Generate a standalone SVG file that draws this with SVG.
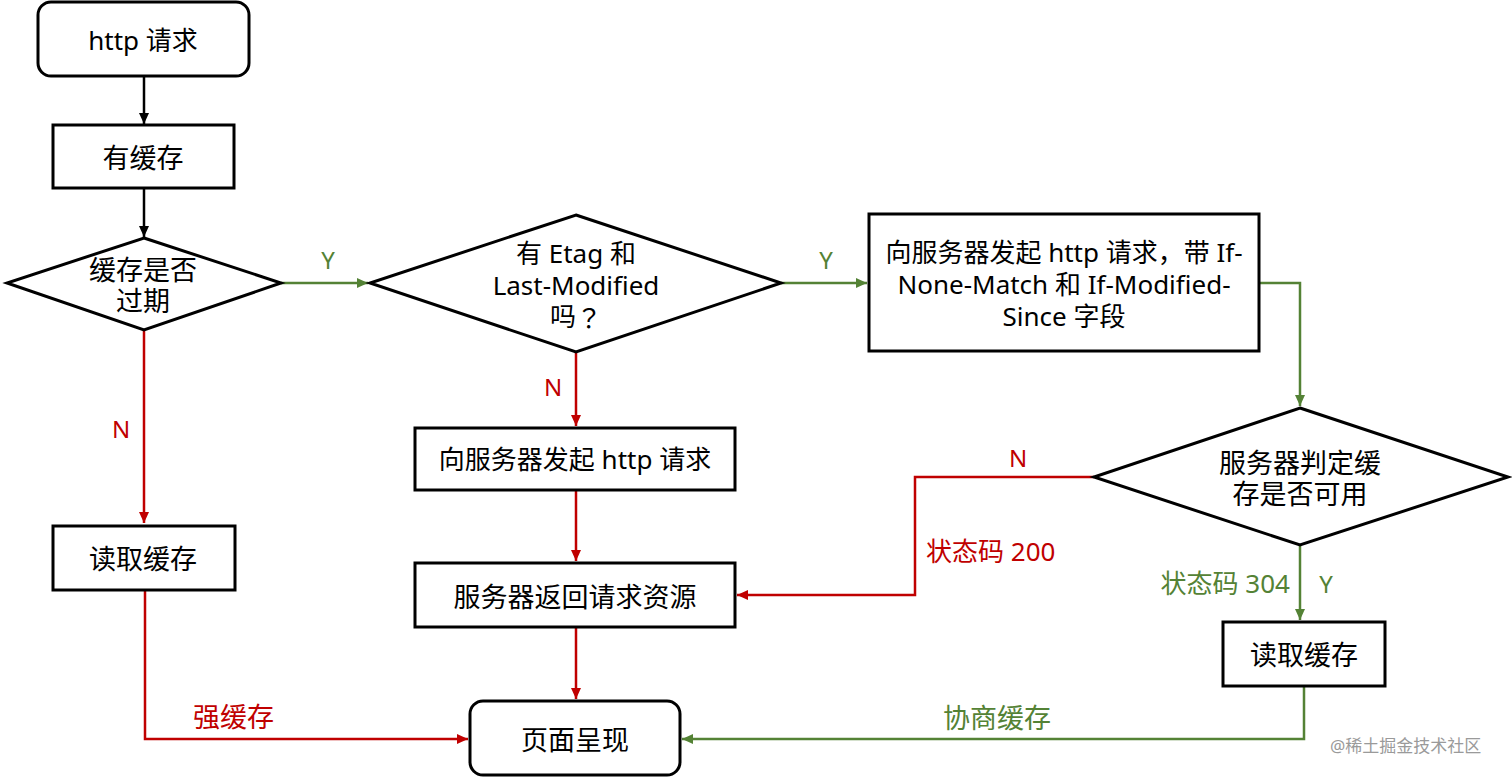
<svg xmlns="http://www.w3.org/2000/svg" width="1512" height="777" viewBox="0 0 1512 777">
<style>
text{font-family:"Noto Sans","Noto Sans CJK SC",sans-serif;font-size:26px;fill:#000;text-anchor:middle;dominant-baseline:central}
text.c{font-size:27px}
tspan.q{font-family:"Noto Sans CJK TC",sans-serif}
.node{fill:#fff;stroke:#000;stroke-width:3}
.k{stroke:#000;stroke-width:2.5;fill:none}
.r{stroke:#C00000;stroke-width:2.5;fill:none}
.g{stroke:#548235;stroke-width:2.5;fill:none}
text.rl{fill:#C00000}
text.gl{fill:#548235}
text.s{text-anchor:start}
text.e{text-anchor:end}
text.yn{font-size:24px}
text.wm{font-size:17px;fill:#9a9a9a;text-anchor:start}
</style>
<defs>
<marker id="ak" markerUnits="userSpaceOnUse" markerWidth="12" markerHeight="10" refX="11" refY="5" orient="auto"><path d="M0,0 L11,5 L0,10 Z" fill="#000"/></marker>
<marker id="ar" markerUnits="userSpaceOnUse" markerWidth="12" markerHeight="10" refX="11" refY="5" orient="auto"><path d="M0,0 L11,5 L0,10 Z" fill="#C00000"/></marker>
<marker id="ag" markerUnits="userSpaceOnUse" markerWidth="12" markerHeight="10" refX="11" refY="5" orient="auto"><path d="M0,0 L11,5 L0,10 Z" fill="#548235"/></marker>
</defs>
<rect width="1512" height="777" fill="#fff"/>
<g id="connectors">
<path class="k" d="M144,77 V124" marker-end="url(#ak)"/>
<path class="k" d="M144,188 V237" marker-end="url(#ak)"/>
<path class="g" d="M281,283 H368" marker-end="url(#ag)"/>
<path class="g" d="M781,283 H867" marker-end="url(#ag)"/>
<path class="g" d="M1260,283 H1300 V406" marker-end="url(#ag)"/>
<path class="g" d="M1300,545 V620" marker-end="url(#ag)"/>
<path class="g" d="M1304,686 V739 H682" marker-end="url(#ag)"/>
<path class="r" d="M144,331 V523" marker-end="url(#ar)"/>
<path class="r" d="M576,352 V426" marker-end="url(#ar)"/>
<path class="r" d="M576,491 V561" marker-end="url(#ar)"/>
<path class="r" d="M576,628 V699" marker-end="url(#ar)"/>
<path class="r" d="M1094,477 H915 V595 H737" marker-end="url(#ar)"/>
<path class="r" d="M145,591 V739 H468" marker-end="url(#ar)"/>
<text class="gl yn" x="328" y="259">Y</text>
<text class="gl yn" x="826" y="259">Y</text>
<text class="rl yn" x="553" y="386">N</text>
<text class="rl yn" x="121" y="428">N</text>
<text class="rl yn" x="1018" y="457">N</text>
<text class="rl s" x="926" y="551">状态码 200</text>
<text class="rl s c" x="193" y="716">强缓存</text>
<text class="gl e" x="1290" y="583">状态码 304</text>
<text class="gl yn" x="1326" y="583">Y</text>
<text class="gl s c" x="943" y="717">协商缓存</text>
</g>
<g id="n-start">
<rect class="node" x="38" y="2" width="211" height="74" rx="13"/>
<text x="143" y="40">http 请求</text>
</g>
<g id="n-has-cache">
<rect class="node" x="53" y="125" width="181" height="63"/>
<text class="c" x="143" y="157">有缓存</text>
</g>
<g id="n-expired">
<polygon class="node" points="144,238 281,283 144,330 7,283"/>
<text class="c" x="143" y="269">缓存是否<tspan x="143" dy="31">过期</tspan></text>
</g>
<g id="n-etag">
<polygon class="node" points="576,215 781,283 576,352 370,283"/>
<text x="576" y="253">有 Etag 和<tspan x="576" dy="32">Last-Modified</tspan><tspan x="576" dy="31">吗<tspan class="q">？</tspan></tspan></text>
</g>
<g id="n-request">
<rect class="node" x="415" y="428" width="320" height="62"/>
<text x="575" y="459">向服务器发起 http 请求</text>
</g>
<g id="n-cond-request">
<rect class="node" x="869" y="214" width="390" height="137"/>
<text x="1064" y="252">向服务器发起 http 请求，带 If-<tspan x="1064" dy="32">None-Match 和 If-Modified-</tspan><tspan x="1064" dy="32">Since 字段</tspan></text>
</g>
<g id="n-server-judge">
<polygon class="node" points="1300,408 1508,477 1300,545 1094,477"/>
<text class="c" x="1300" y="462">服务器判定缓<tspan x="1300" dy="31">存是否可用</tspan></text>
</g>
<g id="n-read-cache-left">
<rect class="node" x="53" y="526" width="182" height="64"/>
<text class="c" x="143" y="558">读取缓存</text>
</g>
<g id="n-server-return">
<rect class="node" x="415" y="563" width="320" height="64"/>
<text class="c" x="575" y="596">服务器返回请求资源</text>
</g>
<g id="n-read-cache-right">
<rect class="node" x="1223" y="622" width="162" height="64"/>
<text class="c" x="1304" y="654">读取缓存</text>
</g>
<g id="n-render">
<rect class="node" x="470" y="701" width="210" height="74" rx="13"/>
<text class="c" x="575" y="739">页面呈现</text>
</g>
<text class="wm" x="1330" y="745">@稀土掘金技术社区</text>
</svg>
